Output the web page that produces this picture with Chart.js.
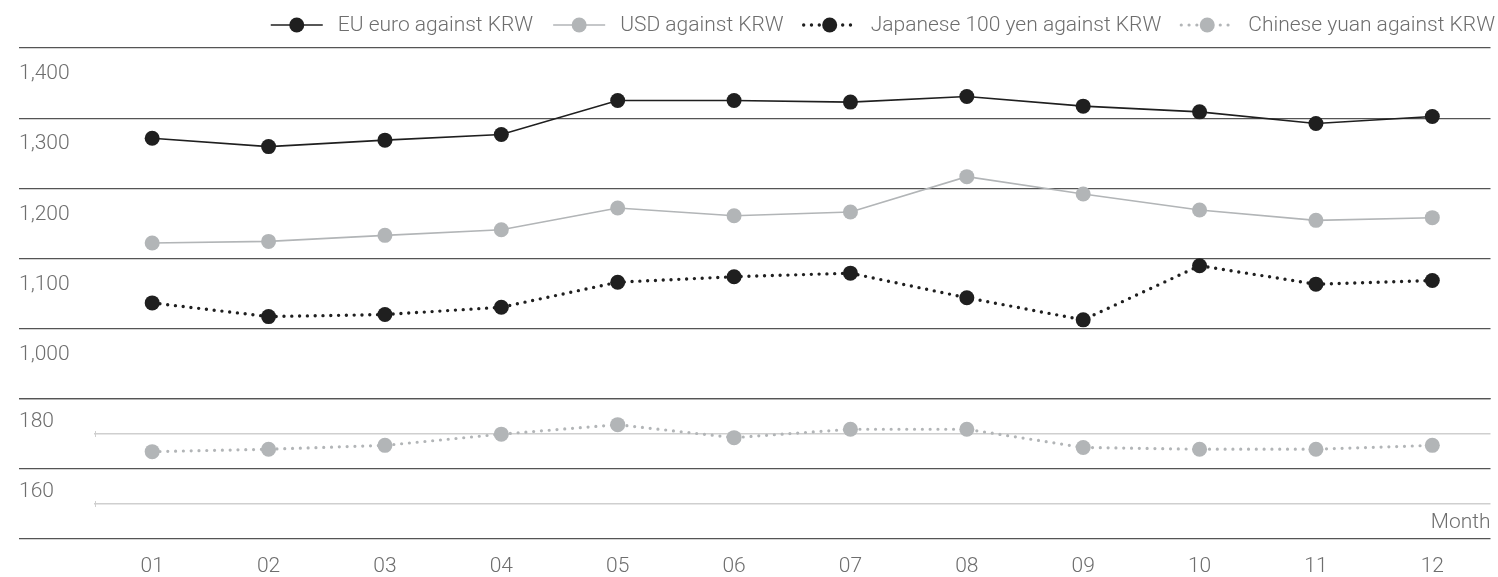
<!DOCTYPE html>
<html>
<head>
<meta charset="utf-8">
<title>Exchange rates against KRW</title>
<script src="https://cdn.jsdelivr.net/npm/chart.js@4/dist/chart.umd.min.js"></script>
<style>
  html, body { margin: 0; padding: 0; background: #ffffff; }
  #wrap { width: 1498px; height: 577px; position: relative; }
</style>
</head>
<body>
<div id="wrap"><canvas id="rates"></canvas></div>
<script>
// Monthly average exchange rates (KRW)
const months = ['01', '02', '03', '04', '05', '06', '07', '08', '09', '10', '11', '12'];
const euroKrw  = [1271.4, 1259.4, 1268.6, 1276.6, 1325.1, 1325.1, 1322.9, 1330.9, 1317.1, 1309.0, 1292.3, 1302.3];
const usdKrw   = [1121.9, 1124.3, 1132.9, 1140.9, 1171.9, 1160.9, 1166.1, 1216.6, 1191.9, 1169.0, 1154.3, 1158.1];
const yen100Krw = [1036.6, 1017.1, 1020.0, 1030.4, 1066.1, 1073.9, 1079.0, 1043.9, 1012.4, 1089.6, 1063.3, 1068.6];
const yuanKrw  = [164.9, 165.6, 166.7, 169.9, 172.6, 168.9, 171.3, 171.3, 166.1, 165.6, 165.6, 166.7];

// Axis ranges and the values that carry a label
const upperRange = [900, 1400];
const upperLabels = [1000, 1100, 1200, 1300, 1400];
const lowerRange = [140, 180];
const lowerLabels = [160, 180];
const xTitle = 'Month';

const FONT_FAMILY = 'Roboto, "Noto Sans", sans-serif';
const TEXT = '#6e6e6e';
const DARK = '#1f1f1f';
const GREY = '#b2b5b7';
const RULE = '#555555';
const RULE_LIGHT = '#cfcfcf';

// Legend: short line sample with a marker, then the series name, right-aligned
const lineLegend = {
  id: 'lineLegend',
  afterDraw(chart) {
    const ctx = chart.ctx;
    ctx.save();
    ctx.font = '300 21px ' + FONT_FAMILY;
    ctx.textBaseline = 'middle';
    const sampleW = 52, gapText = 15, gapItem = 20;
    const items = chart.data.datasets.map(ds => ({ ds, w: ctx.measureText(ds.label).width }));
    const total = items.reduce((s, it) => s + sampleW + gapText + it.w, 0) + gapItem * (items.length - 1);
    let x = chart.width - 3 - total;
    const y = 25;
    items.forEach(({ ds, w }) => {
      ctx.beginPath();
      ctx.strokeStyle = ds.borderColor;
      ctx.lineWidth = ds.borderWidth;
      ctx.setLineDash(ds.borderDash || []);
      ctx.lineCap = ds.borderCapStyle || 'butt';
      ctx.moveTo(x, y);
      ctx.lineTo(x + sampleW, y);
      ctx.stroke();
      ctx.setLineDash([]);
      ctx.beginPath();
      ctx.fillStyle = ds.pointBackgroundColor;
      ctx.arc(x + sampleW / 2, y, ds.pointRadius, 0, Math.PI * 2);
      ctx.fill();
      ctx.fillStyle = TEXT;
      ctx.textAlign = 'left';
      ctx.fillText(ds.label, x + sampleW + gapText, y + 1);
      x += sampleW + gapText + w + gapItem;
    });
    ctx.restore();
  }
};

// Axis title placed inside the plot, just above the base line
const monthTitle = {
  id: 'monthTitle',
  afterDraw(chart) {
    const ctx = chart.ctx;
    const area = chart.chartArea;
    ctx.save();
    ctx.font = '300 21px ' + FONT_FAMILY;
    ctx.fillStyle = TEXT;
    ctx.textAlign = 'right';
    ctx.textBaseline = 'middle';
    ctx.fillText(xTitle, area.right, area.bottom - 16);
    ctx.restore();
  }
};

// Short vertical tick at the left end of the light half-step rules
const halfStepTicks = {
  id: 'halfStepTicks',
  afterDraw(chart) {
    const scale = chart.scales.y2;
    const ctx = chart.ctx;
    const left = chart.chartArea.left;
    ctx.save();
    ctx.strokeStyle = RULE_LIGHT;
    ctx.lineWidth = 1;
    scale.ticks.forEach(t => {
      if (t.value % 20 !== 0) {
        const py = Math.round(scale.getPixelForValue(t.value));
        ctx.beginPath();
        ctx.moveTo(left + 1.5, py - 3);
        ctx.lineTo(left + 1.5, py + 3);
        ctx.stroke();
      }
    });
    ctx.restore();
  }
};

const tickFont = { family: FONT_FAMILY, size: 21, weight: 300 };
const isMajor = c => c.tick && c.tick.value % 20 === 0;

new Chart(document.getElementById('rates'), {
  type: 'line',
  data: {
    labels: months,
    datasets: [
      {
        label: 'EU euro against KRW', data: euroKrw, yAxisID: 'y',
        borderColor: DARK, borderWidth: 1.6,
        pointBackgroundColor: DARK, pointBorderWidth: 0, pointRadius: 7.5
      },
      {
        label: 'USD against KRW', data: usdKrw, yAxisID: 'y',
        borderColor: GREY, borderWidth: 1.6,
        pointBackgroundColor: GREY, pointBorderWidth: 0, pointRadius: 7.5
      },
      {
        label: 'Japanese 100 yen against KRW', data: yen100Krw, yAxisID: 'y',
        borderColor: DARK, borderWidth: 3.4, borderDash: [0, 7.8], borderCapStyle: 'round',
        pointBackgroundColor: DARK, pointBorderWidth: 0, pointRadius: 7.5
      },
      {
        label: 'Chinese yuan against KRW', data: yuanKrw, yAxisID: 'y2',
        borderColor: GREY, borderWidth: 3.2, borderDash: [0, 7.8], borderCapStyle: 'round',
        pointBackgroundColor: GREY, pointBorderWidth: 0, pointRadius: 7.5
      }
    ]
  },
  options: {
    responsive: true,
    maintainAspectRatio: false,
    animation: false,
    devicePixelRatio: 1,
    layout: { padding: { left: 19, right: 5, top: 48, bottom: 0 } },
    plugins: { legend: { display: false }, tooltip: { enabled: false } },
    elements: { line: { tension: 0 } },
    scales: {
      x: {
        type: 'category',
        offset: true,
        grid: { display: false, drawTicks: false },
        border: { display: false },
        ticks: { color: TEXT, font: tickFont, padding: 15, maxRotation: 0, autoSkip: false },
        afterFit(scale) { scale.height = 38; }
      },
      y2: {
        type: 'linear',
        position: 'left',
        stack: 'rate',
        stackWeight: 2,
        min: lowerRange[0],
        max: lowerRange[1],
        border: { display: false },
        grid: {
          color: c => isMajor(c) ? RULE : RULE_LIGHT,
          tickColor: c => isMajor(c) ? RULE : 'rgba(0,0,0,0)',
          lineWidth: c => isMajor(c) ? 1.2 : 1.4,
          tickLength: 75, drawTicks: true
        },
        ticks: {
          stepSize: 10, autoSkip: false, crossAlign: 'far', labelOffset: 23, padding: 0,
          color: TEXT, font: tickFont,
          callback: v => lowerLabels.includes(v) ? v.toLocaleString('en-US') : ''
        },
        afterFit(scale) { scale.width = 75; }
      },
      y: {
        type: 'linear',
        position: 'left',
        stack: 'rate',
        stackWeight: 5,
        min: upperRange[0],
        max: upperRange[1],
        border: { display: false },
        grid: { color: RULE, lineWidth: 1.2, tickLength: 75, drawTicks: true },
        ticks: {
          stepSize: 100, autoSkip: false, crossAlign: 'far', labelOffset: 26, padding: 0,
          color: TEXT, font: tickFont,
          callback: v => upperLabels.includes(v) ? v.toLocaleString('en-US') : ''
        },
        afterFit(scale) { scale.width = 75; }
      }
    }
  },
  plugins: [lineLegend, monthTitle, halfStepTicks]
});
</script>
</body>
</html>
